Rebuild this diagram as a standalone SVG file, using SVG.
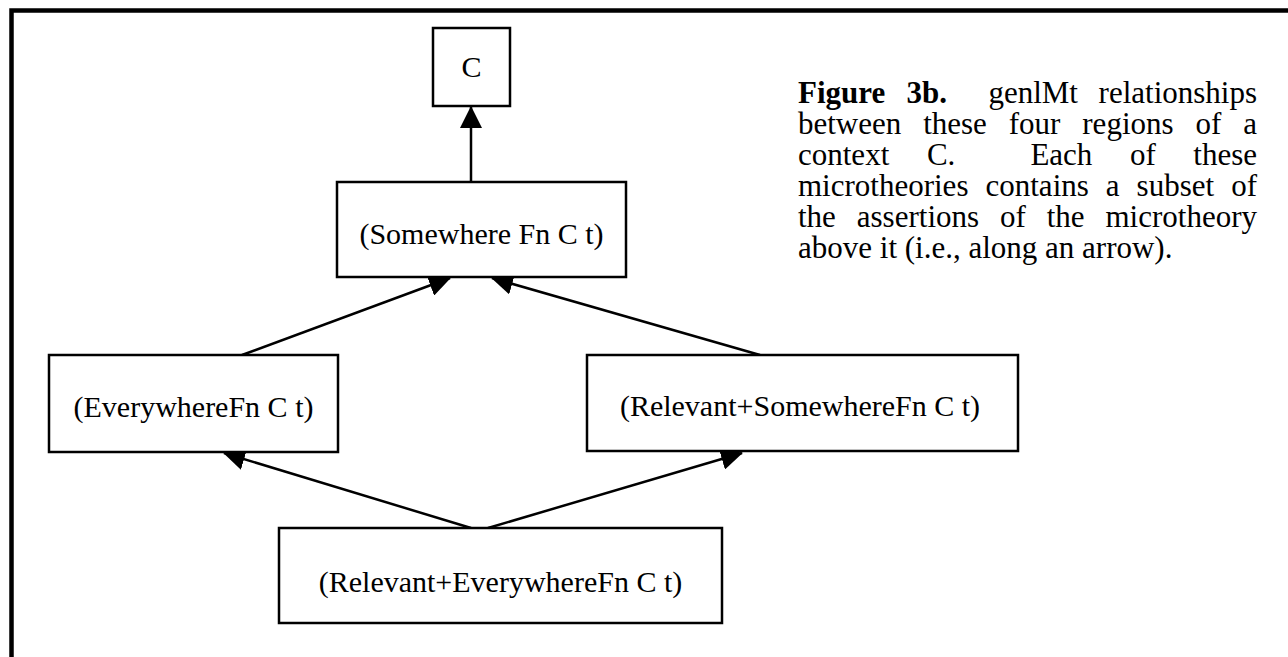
<svg xmlns="http://www.w3.org/2000/svg" width="1288" height="657" viewBox="0 0 1288 657">
  <style>
    .box { fill: #fff; stroke: #000; stroke-width: 2.5; }
    .lbl { font-family: "Liberation Serif", "Times New Roman", serif; font-size: 30px; fill: #000; text-anchor: middle; }
    .cap { font-family: "Liberation Serif", "Times New Roman", serif; font-size: 31px; fill: #000; }
    .edge { stroke: #000; stroke-width: 2.5; fill: none; marker-end: url(#arrow); }
  </style>
  <defs>
    <marker id="arrow" markerUnits="userSpaceOnUse" markerWidth="22" markerHeight="22" refX="21" refY="11" orient="auto" viewBox="0 0 22 22">
      <path d="M0,0 L22,11 L0,22 z" fill="#000"/>
    </marker>
  </defs>
  <rect width="1288" height="657" fill="#fff"/>
  <path d="M11.5,657 V10.5 H1288" fill="none" stroke="#000" stroke-width="4.5"/>

  <g id="connectors">
    <line class="edge" x1="471" y1="182" x2="471" y2="107"/>
    <line class="edge" x1="242" y1="355" x2="450" y2="278"/>
    <line class="edge" x1="760" y1="355" x2="492" y2="278"/>
    <line class="edge" x1="471" y1="528" x2="224" y2="453"/>
    <line class="edge" x1="488" y1="528" x2="742" y2="453"/>
  </g>

  <g id="node-c">
    <rect class="box" x="433" y="28" width="77" height="78"/>
    <text class="lbl" x="471.5" y="77">C</text>
  </g>
  <g id="node-somewhere">
    <rect class="box" x="337" y="182" width="289" height="95"/>
    <text class="lbl" x="481.5" y="244">(Somewhere Fn C t)</text>
  </g>
  <g id="node-everywhere">
    <rect class="box" x="49" y="355" width="289" height="97"/>
    <text class="lbl" x="193.5" y="417">(EverywhereFn C t)</text>
  </g>
  <g id="node-relevant-somewhere">
    <rect class="box" x="587" y="355" width="431" height="96"/>
    <text class="lbl" x="800" y="416">(Relevant+SomewhereFn C t)</text>
  </g>
  <g id="node-relevant-everywhere">
    <rect class="box" x="279" y="528" width="443" height="95"/>
    <text class="lbl" x="500.5" y="592">(Relevant+EverywhereFn C t)</text>
  </g>

  <g id="caption">
    <text class="cap" y="103"><tspan x="798" font-weight="bold">Figure</tspan><tspan x="906.5" font-weight="bold">3b.</tspan><tspan x="988.4">genlMt</tspan><tspan x="1257" text-anchor="end">relationships</tspan></text>
    <text class="cap" y="134"><tspan x="798">between</tspan><tspan x="923.2">these</tspan><tspan x="1008.8">four</tspan><tspan x="1082.3">regions</tspan><tspan x="1195.5">of</tspan><tspan x="1257" text-anchor="end">a</tspan></text>
    <text class="cap" y="165"><tspan x="798">context</tspan><tspan x="926.9">C.</tspan><tspan x="1030.4">Each</tspan><tspan x="1130">of</tspan><tspan x="1257" text-anchor="end">these</tspan></text>
    <text class="cap" y="196"><tspan x="798">microtheories</tspan><tspan x="985.5">contains</tspan><tspan x="1105.8">a</tspan><tspan x="1136.6">subset</tspan><tspan x="1257" text-anchor="end">of</tspan></text>
    <text class="cap" y="227"><tspan x="798">the</tspan><tspan x="856.8">assertions</tspan><tspan x="1000">of</tspan><tspan x="1046.7">the</tspan><tspan x="1257" text-anchor="end">microtheory</tspan></text>
    <text class="cap" y="258" x="798">above it (i.e., along an arrow).</text>
  </g>
</svg>
